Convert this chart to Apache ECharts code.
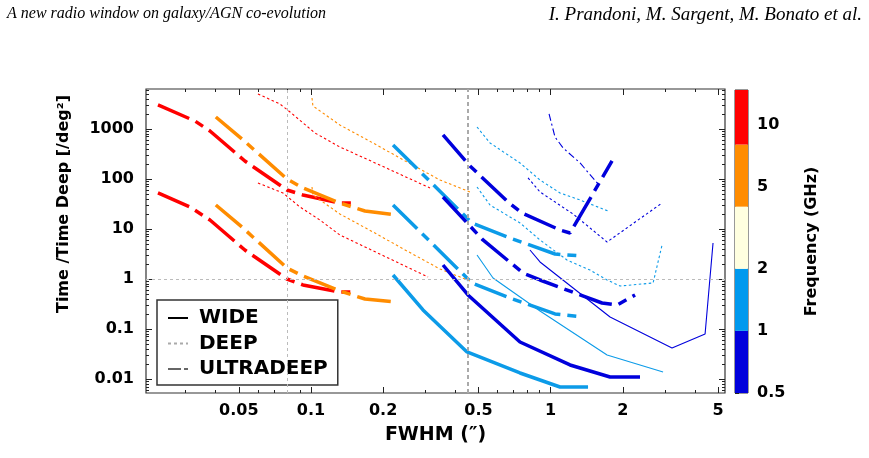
<!DOCTYPE html>
<html lang="en">
<head>
<meta charset="UTF-8">
<title>Time vs FWHM</title>
<script src="https://cdn.jsdelivr.net/npm/echarts@6/dist/echarts.min.js"></script>
<style>
  html, body { margin: 0; padding: 0; background: #fff; }
  #main { width: 869px; height: 458px; }
</style>
</head>
<body>
<div id="main"></div>
<script>
// axis ranges and ticks
var xRange = [0.0205, 5.34];
var yRange = [0.00525, 6300];
var xLabels = [0.05, 0.1, 0.2, 0.5, 1, 2, 5];
var xMinorTicks = [0.03, 0.04, 0.06, 0.07, 0.08, 0.09, 0.3, 0.4, 0.6, 0.7, 0.8, 0.9, 3, 4];
var yLabels = [0.01, 0.1, 1, 10, 100, 1000];
var yMinorTicks = [0.006, 0.007, 0.008, 0.009, 0.02, 0.03, 0.04, 0.05, 0.06, 0.07, 0.08, 0.09,
    0.2, 0.3, 0.4, 0.5, 0.6, 0.7, 0.8, 0.9, 2, 3, 4, 5, 6, 7, 8, 9, 20, 30, 40, 50, 60, 70, 80, 90,
    200, 300, 400, 500, 600, 700, 800, 900, 2000, 3000, 4000, 5000, 6000];
var guideFwhm = [0.08, 0.45];
var guideRatio = [1];

// colour bar (frequency, GHz)
var freqEdges = [0.5, 1, 2, 4, 8, 14.7];
var freqColors = ['#0000dc', '#0099ee', '#ffffe0', '#ff8c00', '#ff0000'];
var freqLabels = [0.5, 1, 2, 5, 10];

// curves: [FWHM (arcsec), time / time deep]
var redUdHi = [[0.023, 3020], [0.0328, 1445], [0.0379, 912], [0.053, 229], [0.0794, 60.3], [0.0926, 47.9], [0.132, 33.1], [0.153, 33.1]];
var redUdLo = [[0.023, 52.5], [0.0313, 27.5], [0.0379, 15.1], [0.053, 3.8], [0.0794, 1.0], [0.0926, 0.76], [0.132, 0.55], [0.153, 0.55]];
var redDeepHi = [[0.0601, 5012], [0.0742, 3162], [0.0818, 2188], [0.1039, 832], [0.132, 437], [0.1815, 219], [0.3138, 66.1]];
var redDeepLo = [[0.0601, 83.2], [0.0764, 52.5], [0.09, 27.5], [0.109, 15.1], [0.132, 7.59], [0.308, 1.096]];

var orangeUdHi = [[0.0401, 1738], [0.0515, 631], [0.0794, 100], [0.0926, 66.1], [0.132, 33.1], [0.168, 22.9], [0.2285, 19.1]];
var orangeUdLo = [[0.0401, 30.2], [0.0515, 10.96], [0.0794, 1.66], [0.0926, 1.15], [0.132, 0.575], [0.168, 0.398], [0.2285, 0.347]];
var orangeDeepHi = [[0.101, 4169], [0.1019, 2884], [0.132, 1202], [0.1815, 525], [0.2516, 219], [0.3454, 95.5], [0.4608, 55.0]];
var orangeDeepLo = [[0.101, 69.2], [0.1019, 47.9], [0.132, 19.95], [0.1815, 8.71], [0.2516, 3.63], [0.3454, 1.585], [0.4608, 0.912]];

var lblueUdHi = [[0.22, 479], [0.47, 13.2], [0.677, 6.61], [1.043, 3.16], [1.365, 2.88]];
var lblueUdLo = [[0.22, 30.2], [0.47, 0.832], [0.677, 0.417], [1.043, 0.2], [1.365, 0.174]];
var lblueDeepHi = [[0.493, 1096], [0.5585, 525], [0.745, 209], [0.903, 95.5], [1.0945, 52.5], [1.3265, 38.0], [1.736, 22.9]];
var lblueDeepLo = [[0.493, 69.2], [0.5585, 30.2], [0.745, 13.2], [0.903, 6.03], [1.17, 2.40], [1.46, 1.514], [1.72, 0.955], [1.949, 0.724], [2.676, 0.832], [2.917, 4.79]];
var lblueWideThin = [[0.493, 3.02], [0.575, 1.047], [0.903, 0.229], [1.72, 0.0302], [2.945, 0.0138]];
var lblueWide = [[0.22, 1.202], [0.2934, 0.240], [0.4477, 0.0347], [0.745, 0.0132], [1.0945, 0.00692], [1.4325, 0.00692]];

var blueUdHi = [[0.3556, 759], [0.4608, 182], [0.6642, 34.7], [0.7596, 20.9], [1.0945, 9.55], [1.205, 8.32], [1.804, 229]];
var blueUdLo = [[0.3556, 43.7], [0.522, 6.03], [0.767, 1.318], [0.903, 0.955], [1.639, 0.331], [1.893, 0.302], [2.251, 0.479]];
var blueUdThin = [[0.985, 1995], [1.043, 692], [1.127, 417], [1.327, 209], [1.577, 79.4]];
var blueDeep = [[0.805, 105], [0.903, 55.0], [1.24, 19.95], [1.72, 5.50], [2.917, 33.1]];
var blueWideThin = [[0.82, 3.80], [0.903, 2.19], [1.77, 0.174], [3.21, 0.0417], [4.41, 0.0794], [4.76, 5.25]];
var blueWide = [[0.3556, 1.905], [0.452, 0.479], [0.745, 0.055], [1.205, 0.0191], [1.77, 0.01096], [2.36, 0.01096]];

var RED = '#ff0000', ORANGE = '#ff8c00', LBLUE = '#0c9be8', BLUE = '#0000dc';

var curves = [
    { data: redUdHi, color: RED, kind: 'ud', thick: true },
    { data: redUdLo, color: RED, kind: 'ud', thick: true },
    { data: redDeepHi, color: RED, kind: 'deep' },
    { data: redDeepLo, color: RED, kind: 'deep' },
    { data: orangeUdHi, color: ORANGE, kind: 'ud', thick: true },
    { data: orangeUdLo, color: ORANGE, kind: 'ud', thick: true },
    { data: orangeDeepHi, color: ORANGE, kind: 'deep' },
    { data: orangeDeepLo, color: ORANGE, kind: 'deep' },
    { data: lblueUdHi, color: LBLUE, kind: 'ud', thick: true },
    { data: lblueUdLo, color: LBLUE, kind: 'ud', thick: true },
    { data: lblueDeepHi, color: LBLUE, kind: 'deep' },
    { data: lblueDeepLo, color: LBLUE, kind: 'deep' },
    { data: lblueWideThin, color: LBLUE, kind: 'wide' },
    { data: lblueWide, color: LBLUE, kind: 'wide', thick: true },
    { data: blueUdHi, color: BLUE, kind: 'ud', thick: true },
    { data: blueUdLo, color: BLUE, kind: 'ud', thick: true },
    { data: blueUdThin, color: BLUE, kind: 'ud' },
    { data: blueDeep, color: BLUE, kind: 'deep' },
    { data: blueWideThin, color: BLUE, kind: 'wide' },
    { data: blueWide, color: BLUE, kind: 'wide', thick: true }
];

function dashFor(c) {
    if (c.kind === 'wide') return 'solid';
    if (c.kind === 'deep') return [2.5, 2.5];
    return c.thick ? [34, 7, 9, 7] : [7, 3, 2, 3];
}

var tickLine = { color: '#222', width: 1 };
var boldFont = { color: '#000', fontFamily: 'DejaVu Sans', fontWeight: 'bold', fontSize: 16 };
var headFont = { fontFamily: 'Liberation Serif', fontStyle: 'italic', fontWeight: 'normal', color: '#000' };

function logAxis(range, position, tickValues, tickLen, labelValues, margin) {
    return {
        type: 'log', gridIndex: 0, min: range[0], max: range[1], position: position,
        axisLine: { show: false, onZero: false },
        splitLine: { show: false },
        axisTick: { show: true, inside: true, length: tickLen, customValues: tickValues, lineStyle: tickLine },
        axisLabel: labelValues ? Object.assign({
            customValues: labelValues, margin: margin,
            formatter: function (v) { return String(+(+v).toPrecision(3)); }
        }, boldFont) : { show: false }
    };
}

var xMain = logAxis(xRange, 'bottom', xLabels, 6, xLabels, 10);
xMain.name = 'FWHM (″)';
xMain.nameLocation = 'middle';
xMain.nameGap = 33;
xMain.nameTextStyle = Object.assign({}, boldFont, { fontSize: 19 });

var yMain = logAxis(yRange, 'left', yLabels, 6, yLabels, 12);
yMain.name = 'Time /Time Deep [/deg²]';
yMain.nameLocation = 'middle';
yMain.nameGap = 74;
yMain.nameTextStyle = Object.assign({}, boldFont, { fontSize: 16, padding: [0, 0, 0, 74] });

var series = [];
curves.forEach(function (c) {
    series.push({
        type: 'line', xAxisIndex: 0, yAxisIndex: 0, data: c.data,
        symbol: 'none', silent: true, z: 3,
        lineStyle: { color: c.color, width: c.thick ? 3.5 : 1.1, type: dashFor(c) }
    });
});

// dotted guide lines
series[0].markLine = {
    silent: true, symbol: 'none', label: { show: false },
    lineStyle: { color: '#bbbbbb', width: 1, type: [3, 3] },
    data: guideFwhm.map(function (v, i) {
        return i === 1 ? { xAxis: v, lineStyle: { color: '#aaaaaa', width: 2, type: [4, 3] } } : { xAxis: v };
    }).concat(guideRatio.map(function (v) { return { yAxis: v }; }))
};

// legend entries
[['WIDE', '#000000', 'solid'], ['DEEP', '#aaaaaa', [3, 3]], ['ULTRADEEP', '#666666', [13, 3, 4, 3]]].forEach(function (l) {
    series.push({
        type: 'line', name: l[0], data: [], symbol: 'none',
        itemStyle: { color: l[1] },
        lineStyle: { color: l[1], width: 1.5, type: l[2] }
    });
});

// colour bar
series.push({
    type: 'custom', xAxisIndex: 4, yAxisIndex: 4, silent: true,
    data: freqColors.map(function (c, i) { return [freqEdges[i], freqEdges[i + 1]]; }),
    renderItem: function (params, api) {
        var p0 = api.coord([0, api.value(0)]);
        var p1 = api.coord([1, api.value(1)]);
        return {
            type: 'rect',
            shape: { x: p0[0], y: p1[1], width: p1[0] - p0[0], height: p0[1] - p1[1] },
            style: { fill: freqColors[params.dataIndex] }
        };
    }
});

var option = {
    animation: false,
    backgroundColor: '#fff',
    title: [
        { text: 'A new radio window on galaxy/AGN co-evolution', left: 7, top: 6, padding: 0,
          textStyle: Object.assign({ fontSize: 16 }, headFont) },
        { text: 'I. Prandoni, M. Sargent, M. Bonato et al.', right: 7, top: 5, padding: 0,
          textStyle: Object.assign({ fontSize: 19 }, headFont) }
    ],
    legend: {
        data: ['WIDE', 'DEEP', 'ULTRADEEP'],
        orient: 'vertical', left: 157, top: 300,
        padding: [8, 10, 6, 10], itemGap: 5.5, itemWidth: 20, itemHeight: 14,
        backgroundColor: '#fff', borderColor: '#333', borderWidth: 1.5, borderRadius: 0,
        selectedMode: false,
        itemStyle: { opacity: 0 },
        textStyle: Object.assign({}, boldFont, { fontSize: 20, padding: [0, 0, 0, 6] })
    },
    grid: [
        { left: 146, top: 89, width: 579, height: 304, show: true, borderColor: '#333', borderWidth: 1.2, containLabel: false },
        { left: 735, top: 90, width: 13, height: 303, show: true, borderColor: '#333', borderWidth: 1, containLabel: false }
    ],
    xAxis: [
        xMain,
        logAxis(xRange, 'bottom', xMinorTicks, 3),
        logAxis(xRange, 'top', xLabels, 6),
        logAxis(xRange, 'top', xMinorTicks, 3),
        { gridIndex: 1, type: 'value', min: 0, max: 1, show: false }
    ],
    yAxis: [
        yMain,
        logAxis(yRange, 'left', yMinorTicks, 3),
        logAxis(yRange, 'right', yLabels, 6),
        logAxis(yRange, 'right', yMinorTicks, 3),
        {
            gridIndex: 1, type: 'log', min: freqEdges[0], max: freqEdges[freqEdges.length - 1], position: 'right',
            axisLine: { show: false }, splitLine: { show: false },
            axisTick: { show: true, length: 4, customValues: freqLabels, lineStyle: tickLine },
            axisLabel: Object.assign({ customValues: freqLabels, margin: 9,
                formatter: function (v) { return String(+(+v).toPrecision(3)); } }, boldFont),
            name: 'Frequency (GHz)', nameLocation: 'middle', nameRotate: 90, nameGap: 56,
            nameTextStyle: Object.assign({}, boldFont)
        }
    ],
    series: series
};

var myChart = echarts.init(document.getElementById('main'));
myChart.setOption(option);
</script>
</body>
</html>
